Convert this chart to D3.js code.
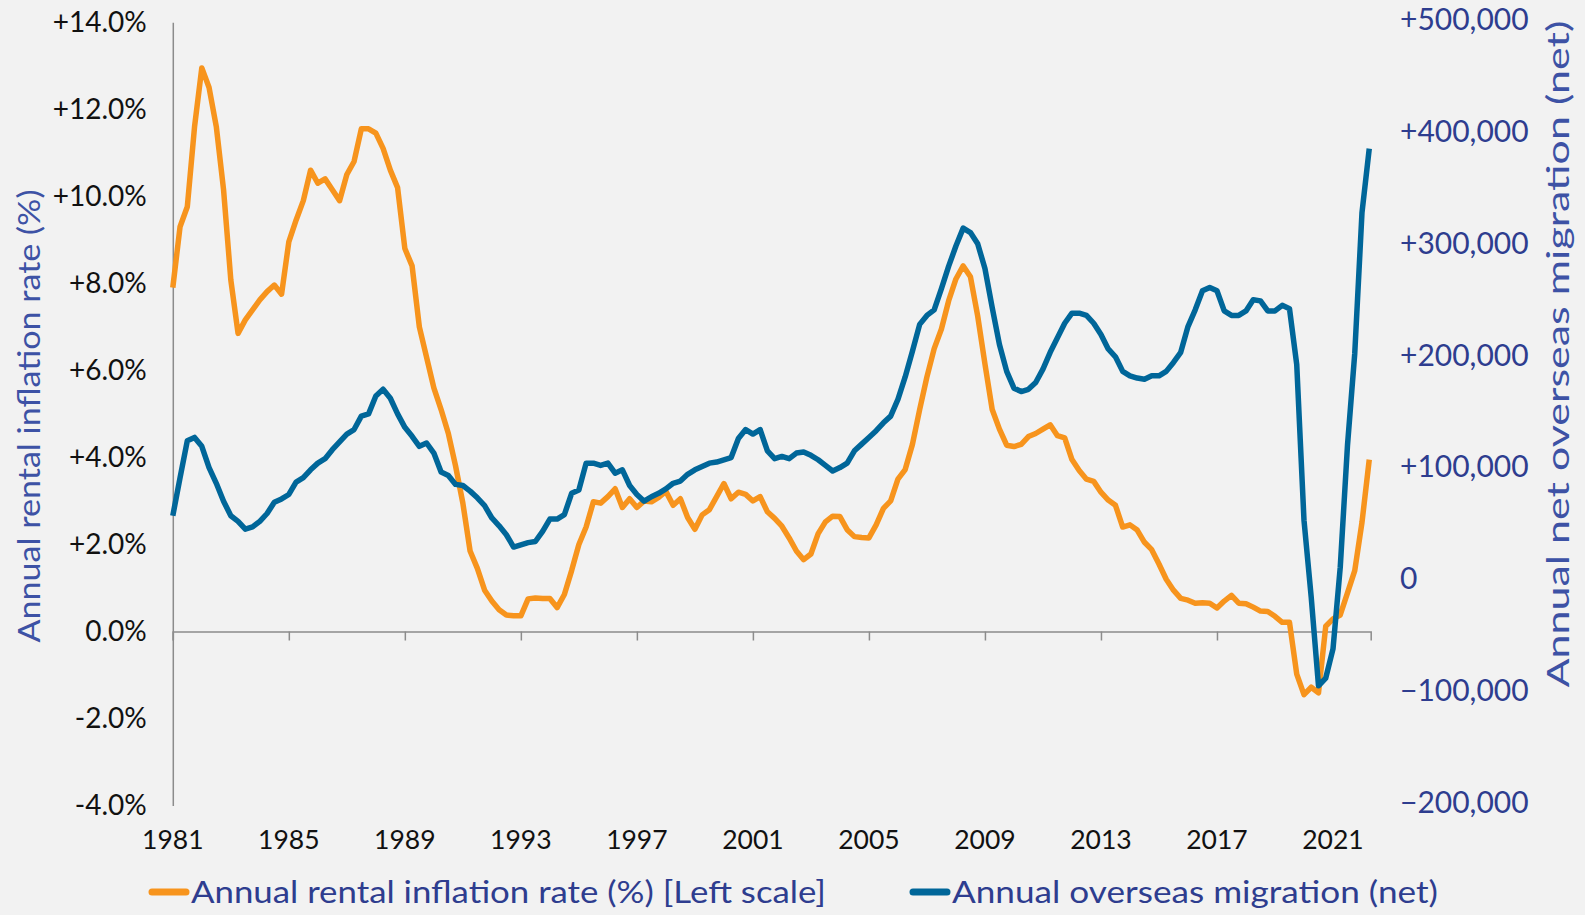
<!DOCTYPE html>
<html>
  <head>
    <meta charset="utf-8">
    <script src="https://d3js.org/d3.v7.min.js"></script>
    <style>
      body { margin: 0; background: #f2f2f2; }
      text { font-family: "Lato", "Open Sans", sans-serif; }
    </style>
  </head>
  <body>
    <div id="graph"></div>
    <script>

// quarterly observations, first one is 1981 Q1
var firstYear = 1981;
var tickYears = [1981, 1985, 1989, 1993, 1997, 2001, 2005, 2009, 2013, 2017, 2021];
var leftTicks = [-4, -2, 0, 2, 4, 6, 8, 10, 12, 14];
var rightTicks = [-200000, -100000, 0, 100000, 200000, 300000, 400000, 500000];

// annual rental inflation rate (%)
var rentInflation = [
  7.9, 9.3, 9.76, 11.6, 12.95, 12.5, 11.6, 10.15, 8.08, 6.85, 7.16, 7.39,
  7.62, 7.81, 7.96, 7.75, 8.95, 9.45, 9.9, 10.6, 10.3, 10.4, 10.15, 9.9,
  10.5, 10.8, 11.55, 11.55, 11.45, 11.1, 10.6, 10.2, 8.8, 8.4, 7.0, 6.3,
  5.6, 5.1, 4.55, 3.8, 2.95, 1.85, 1.45, 0.95, 0.7, 0.5, 0.38, 0.36,
  0.36, 0.75, 0.77, 0.76, 0.76, 0.55, 0.85, 1.4, 2.0, 2.4, 2.98, 2.95,
  3.1, 3.28, 2.85, 3.05, 2.85, 3.0, 2.98, 3.08, 3.22, 2.9, 3.05, 2.62,
  2.35, 2.68, 2.8, 3.1, 3.4, 3.05, 3.2, 3.15, 3.0, 3.1, 2.75, 2.6,
  2.42, 2.15, 1.85, 1.65, 1.78, 2.25, 2.52, 2.65, 2.64, 2.34, 2.18, 2.16,
  2.15, 2.45, 2.83, 3.0, 3.5, 3.72, 4.3, 5.1, 5.85, 6.5, 6.95, 7.6,
  8.1, 8.4, 8.15, 7.25, 6.15, 5.1, 4.65, 4.28, 4.25, 4.3, 4.48, 4.55,
  4.65, 4.75, 4.5, 4.45, 3.95, 3.7, 3.5, 3.45, 3.2, 3.02, 2.9, 2.4,
  2.45, 2.33, 2.05, 1.88, 1.55, 1.2, 0.95, 0.76, 0.72, 0.65, 0.66, 0.65,
  0.54, 0.7, 0.83, 0.65, 0.64, 0.56, 0.47, 0.46, 0.35, 0.21, 0.21, -0.98,
  -1.45, -1.28, -1.41, 0.12, 0.29, 0.38, 0.89, 1.4, 2.51, 3.95
];

// annual net overseas migration (persons)
var migration = [
  59000, 93000, 126000, 129000, 121000, 102000, 88000, 72000, 59000, 54000, 47000, 49000,
  54000, 61000, 71000, 74000, 78000, 89000, 93000, 100000, 106000, 110000, 118000, 125000,
  132000, 136000, 148000, 150000, 166000, 172000, 164000, 150000, 138000, 130000, 121000, 124000,
  115000, 98000, 95000, 87000, 86000, 81000, 75000, 68000, 57000, 50000, 42000, 31000,
  33000, 35000, 36000, 45000, 56000, 56000, 60000, 79000, 82000, 106000, 106000, 104000,
  106000, 97000, 100000, 86000, 78000, 72000, 76000, 79000, 83000, 88000, 90000, 96000,
  100000, 103000, 106000, 107000, 109000, 111000, 128000, 136000, 132000, 136000, 117000, 110000,
  112000, 110000, 115000, 116000, 113000, 109000, 104000, 99000, 102000, 106000, 117000, 123000,
  129000, 135000, 142000, 148000, 163000, 183000, 206000, 230000, 238000, 243000, 262000, 282000,
  300000, 316000, 312000, 302000, 280000, 245000, 212000, 188000, 173000, 170000, 172000, 178000,
  190000, 205000, 218000, 231000, 240000, 240000, 238000, 231000, 221000, 208000, 201000, 188000,
  184000, 182000, 181000, 184000, 184000, 188000, 196000, 205000, 228000, 243000, 260000, 263000,
  260000, 242000, 238000, 238000, 242000, 252000, 251000, 242000, 242000, 247000, 244000, 194000,
  55000, -14000, -93000, -86000, -60000, 13000, 122000, 204000, 330000, 387000
];

var w = 1585;
var h = 915;
var orange = "#f7941d";
var blue = "#006699";
var navy = "#2e3d8f";
var titleBlue = "#3d52a5";
var axisGrey = "#8c8c8c";

var svg = d3.select("#graph")
  .append("svg")
  .attr("width", w)
  .attr("height", h);

svg.append("rect")
  .attr("width", w)
  .attr("height", h)
  .attr("fill", "#f2f2f2");

var xScale = d3.scaleLinear()
  .domain([firstYear, 2022.3])
  .range([172.8, 1370.7]);

var yLeft = d3.scaleLinear()
  .domain([-4, 14])
  .range([805.6, 22.2]);

var yRight = d3.scaleLinear()
  .domain([-200000, 500000])
  .range([805.6, 22.2]);

function quarter(i) {
  return firstYear + i * 0.25;
}

// left axis: line plus labels
var leftAxis = svg.append("g")
  .attr("transform", "translate(" + xScale.range()[0] + ",0)")
  .call(d3.axisLeft(yLeft)
    .tickValues(leftTicks)
    .tickSize(0)
    .tickPadding(26)
    .tickFormat(function(d) {
      return (d > 0 ? "+" : "") + d.toFixed(1) + "%";
    }));
leftAxis.select(".domain").attr("stroke", axisGrey).attr("stroke-width", 1.5);
leftAxis.selectAll("text")
  .attr("font-size", "28px")
  .attr("font-family", "Lato, sans-serif")
  .attr("fill", "#111");

// x axis sitting on the zero line
var xAxis = svg.append("g")
  .attr("transform", "translate(0," + yLeft(0) + ")")
  .call(d3.axisBottom(xScale)
    .tickValues(tickYears)
    .tickSize(9)
    .tickFormat(d3.format("d")));
xAxis.select(".domain").attr("stroke", axisGrey).attr("stroke-width", 1.5);
xAxis.selectAll(".tick line").attr("stroke", axisGrey).attr("stroke-width", 1.5);
xAxis.selectAll("text").remove();

// year labels below the plot
svg.selectAll(".yearLabel")
  .data(tickYears)
  .enter()
  .append("text")
  .attr("class", "yearLabel")
  .attr("x", function(d) { return xScale(d); })
  .attr("y", 842)
  .attr("text-anchor", "middle")
  .attr("dominant-baseline", "middle")
  .attr("font-size", "26.5px")
  .attr("fill", "#111")
  .text(function(d) { return d; });

// right axis labels
var fmt = d3.format(",");
svg.selectAll(".rightLabel")
  .data(rightTicks)
  .enter()
  .append("text")
  .attr("class", "rightLabel")
  .attr("x", 1400)
  .attr("y", function(d) { return yRight(d); })
  .attr("dominant-baseline", "middle")
  .attr("font-size", "30px")
  .attr("fill", navy)
  .text(function(d) {
    if (d == 0) return "0";
    return (d > 0 ? "+" : "") + fmt(d);
  });

// axis titles (the original face is wide, so stretch to its measured length)
svg.append("text")
  .attr("transform", "translate(32,416) rotate(-90)")
  .attr("text-anchor", "middle")
  .attr("dominant-baseline", "middle")
  .attr("font-size", "31px")
  .attr("fill", titleBlue)
  .attr("textLength", 453)
  .attr("lengthAdjust", "spacingAndGlyphs")
  .text("Annual rental inflation rate (%)");

svg.append("text")
  .attr("transform", "translate(1561,354) rotate(-90)")
  .attr("text-anchor", "middle")
  .attr("dominant-baseline", "middle")
  .attr("font-size", "30px")
  .attr("fill", titleBlue)
  .attr("textLength", 667)
  .attr("lengthAdjust", "spacingAndGlyphs")
  .text("Annual net overseas migration (net)");

// lines
var rentLine = d3.line()
  .x(function(d, i) { return xScale(quarter(i)); })
  .y(function(d) { return yLeft(d); });

var migLine = d3.line()
  .x(function(d, i) { return xScale(quarter(i)); })
  .y(function(d) { return yRight(d); });

svg.append("path")
  .datum(rentInflation)
  .attr("d", rentLine)
  .attr("fill", "none")
  .attr("stroke", orange)
  .attr("stroke-width", 5.5)
  .attr("stroke-linejoin", "round");

svg.append("path")
  .datum(migration)
  .attr("d", migLine)
  .attr("fill", "none")
  .attr("stroke", blue)
  .attr("stroke-width", 5.5)
  .attr("stroke-linejoin", "round");

// legend
var legend = [
  { label: "Annual rental inflation rate (%) [Left scale]", color: orange, x: 150, len: 635 },
  { label: "Annual overseas migration (net)", color: blue, x: 911, len: 486 }
];

var items = svg.selectAll(".legend")
  .data(legend)
  .enter()
  .append("g")
  .attr("class", "legend")
  .attr("transform", function(d) { return "translate(" + d.x + ",892)"; });

items.append("line")
  .attr("x1", 2)
  .attr("x2", 36)
  .attr("stroke", function(d) { return d.color; })
  .attr("stroke-width", 7)
  .attr("stroke-linecap", "round");

items.append("text")
  .attr("x", 41)
  .attr("y", 3)
  .attr("dominant-baseline", "middle")
  .attr("font-size", "30px")
  .attr("fill", navy)
  .attr("textLength", function(d) { return d.len; })
  .attr("lengthAdjust", "spacingAndGlyphs")
  .text(function(d) { return d.label; });

    </script>
  </body>
</html>
